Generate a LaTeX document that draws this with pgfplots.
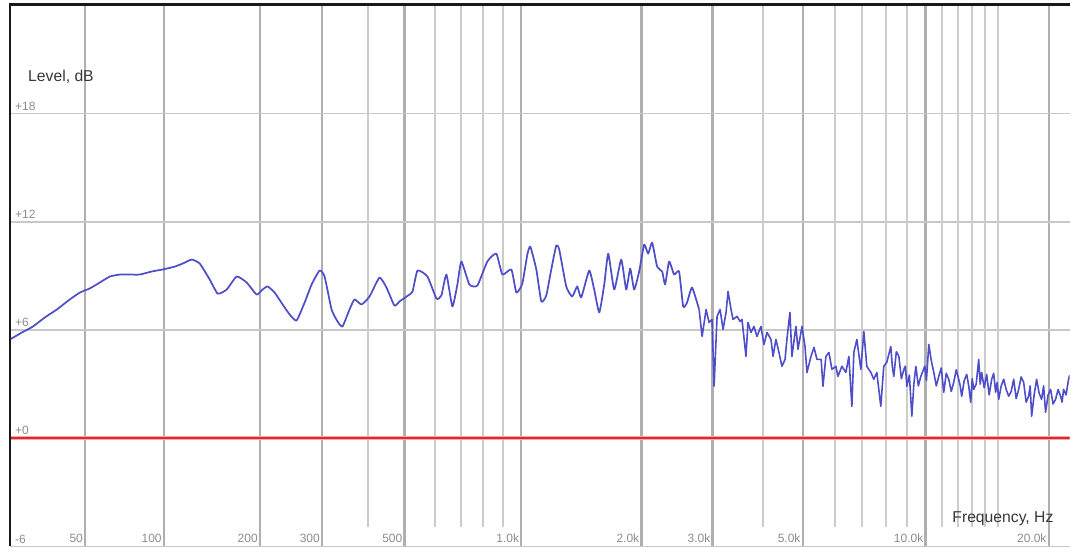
\documentclass[border=0pt]{standalone}
\usepackage{pgfplots}
\pgfplotsset{compat=1.18}
\usepackage{fontspec}
\setmainfont{Liberation Sans}
\definecolor{curve}{RGB}{78,78,200}
\definecolor{refred}{RGB}{226,40,40}
\definecolor{refhalo}{RGB}{244,170,170}
\definecolor{majgrid}{RGB}{175,175,175}
\definecolor{mingrid}{RGB}{204,204,204}
\definecolor{hgrid}{RGB}{200,200,200}
\definecolor{ticktext}{RGB}{140,140,140}
\definecolor{labtext}{RGB}{55,55,55}
% response below ~2.7 kHz
\pgfplotstableread{
f dB
19.05 5.48
23.2 5.87
27.2 6.20
31.8 6.70
36.8 7.14
42.6 7.70
47.4 8.08
52.4 8.31
57.8 8.64
63.4 8.97
69.4 9.08
75.7 9.08
82.3 9.08
90.8 9.25
99.1 9.36
108.8 9.52
115.6 9.69
123.6 9.91
131.2 9.69
141.1 8.80
149.4 8.02
159.2 8.25
170.6 8.97
182.7 8.64
195.6 7.97
203.6 8.25
210.5 8.42
220.6 8.08
232.5 7.42
243.4 6.87
254.7 6.53
268.4 7.53
280.7 8.53
295.4 9.30
304.9 8.97
318.7 7.14
330.9 6.48
341.4 6.20
356.7 7.14
367.9 7.70
384.2 7.42
403.7 7.86
429.2 8.91
448.0 8.36
470.3 7.36
485.1 7.59
506.1 7.86
524.8 8.14
540.8 9.30
574.2 8.97
605.9 7.75
624.2 7.92
643.1 9.08
666.4 7.31
686.5 8.53
702.9 9.80
737.0 8.53
772.6 8.47
819.3 9.80
863.7 10.24
895.1 9.08
943.4 9.36
971.4 8.08
1005.8 8.58
1035.5 10.19
1053.7 10.63
1091.1 9.36
1123.2 7.59
1156.1 7.92
1190.1 9.36
1225.0 10.69
1246.5 10.46
1297.8 8.42
1343.6 7.86
1382.8 8.42
1415.0 7.81
1481.7 9.30
1524.9 8.25
1570.2 6.98
1615.9 8.53
1653.4 10.24
1711.3 8.25
1781.2 9.91
1832.8 8.25
1875.3 9.41
1918.7 8.25
1974.2 9.25
2031.4 10.74
2078.3 10.24
2126.2 10.85
2187.7 9.52
2250.9 9.25
2289.7 8.53
2342.5 9.80
2410.2 9.08
2479.6 9.25
2538.2 7.31
2594.9 7.53
2669.9 8.36
2779.2 7.14
}\lowresp
% response above ~2.7 kHz
\pgfplotstableread{
f dB
2779.2 7.14
2827 5.65
2892 7.14
2941 6.42
2992 6.59
3026 2.88
3078 6.76
3131 7.14
3185 6.04
3239 6.98
3276 8.14
3332 7.14
3370 6.59
3447 6.76
3507 6.48
3546 6.59
3627 4.54
3669 6.42
3732 5.87
3795 6.20
3860 5.65
3949 6.20
4016 5.20
4085 5.87
4179 5.48
4228 4.54
4298 5.48
4372 4.76
4446 3.99
4525 4.37
4573 5.48
4652 6.98
4705 4.54
4812 6.20
4869 4.93
4981 6.20
5066 5.09
5123 3.65
5241 4.54
5330 5.04
5421 4.37
5550 4.37
5607 2.88
5702 4.54
5800 4.76
5898 3.82
6033 3.99
6101 3.43
6240 3.99
6382 3.65
6491 4.54
6602 1.77
6676 4.76
6790 5.48
6945 3.82
7063 5.92
7183 3.99
7347 3.65
7472 3.27
7600 3.65
7772 1.77
7904 3.99
8039 4.21
8223 5.09
8292 4.0
8362 3.43
8483 4.8
8605 4.54
8727 3.3
8851 3.82
8926 4.0
9001 2.88
9129 3.5
9258 1.22
9363 3.0
9469 3.99
9603 2.9
9738 3.43
9960 4.0
10050 3.2
10186 5.20
10330 4.3
10476 3.65
10624 2.9
10774 3.43
10926 3.9
11081 2.55
11238 3.6
11397 3.27
11558 2.6
11721 3.10
11887 3.8
12055 3.27
12157 2.9
12260 2.33
12433 3.2
12609 3.54
12752 2.9
12896 1.99
13005 3.3
13115 2.71
13300 3.0
13488 4.37
13602 3.0
13717 3.65
13911 2.8
14107 3.54
14307 2.4
14510 3.27
14674 3.6
14839 2.55
14967 3.1
15097 2.16
15310 2.9
15527 3.27
15746 2.7
15968 2.33
16195 2.6
16424 3.27
16656 2.2
16890 2.71
17128 3.4
17370 3.10
17616 2.0
17865 2.33
18016 2.9
18168 1.22
18425 2.4
18685 3.27
18949 2.5
19216 2.16
19432 2.9
19651 1.44
19929 2.4
20210 2.71
20495 1.9
20784 2.16
21078 2.7
21376 2.33
21557 2.0
21739 2.71
22046 2.4
22357 3.27
22497 3.5
}\highresp
\begin{document}
\begin{tikzpicture}
\begin{axis}[name=ax, at={(0,0)}, anchor=south west,
  scale only axis, width=795.75pt, height=406.9pt,
  x coord trafo/.code={\begingroup\pgfkeys{/pgf/fpu=true,/pgf/fpu/output format=fixed}\pgfmathparse{log10(#1+40)}\pgfmathsmuggle\pgfmathresult\endgroup},
  xmin=19.05, xmax=22497, ymin=-6, ymax=24.06,
  xtick={50,100,200,300,500,1000,2000,3000,5000,10000,20000},
  xticklabels={50,100,200,300,500,1.0k,2.0k,3.0k,5.0k,10.0k,20.0k},
  ytick={-6,0,6,12,18},
  yticklabels={-6,+0,+6,+12,+18},
  major tick length=0pt, tick align=inside,
  xmajorgrids, ymajorgrids,
  major x grid style={draw=majgrid, line width=1.6pt},
  major y grid style={draw=hgrid, line width=1.1pt},
  axis line style={draw=none},
  xticklabel style={font=\fontsize{9}{10}\selectfont, text=ticktext, anchor=base east, inner sep=0pt, xshift=-1.5pt, yshift=3pt},
  yticklabel style={font=\fontsize{9}{10}\selectfont, text=ticktext, anchor=base west, inner sep=0pt, xshift=3.75pt, yshift=2.5pt},
]
\pgfplotsinvokeforeach{400,600,700,800,900,4000,6000,7000,8000,9000,11000,12000,13000,14000,15000}{
  \addplot[draw=mingrid, line width=1.5pt, forget plot] coordinates {(#1,-4.93) (#1,24.1)};
}
\addplot[draw=refhalo, line width=3.2pt, forget plot] coordinates {(19.05,0) (22497,0)};
\addplot[draw=refred, line width=1.5pt, forget plot] coordinates {(19.05,0) (22497,0)};
\addplot[draw=curve, line width=1.3pt, smooth, tension=0.3, line join=round] table[x=f, y=dB] {\lowresp};
\addplot[draw=curve, line width=1.2pt, line join=round] table[x=f, y=dB] {\highresp};
\end{axis}
\draw[black!90, line width=2pt, line join=miter] (ax.south west) -- (ax.north west) -- (ax.north east);
\node[anchor=base west, inner sep=0pt, font=\fontsize{11.8}{13}\selectfont, text=labtext] at ([xshift=13.5pt, yshift=-58.1pt]ax.north west) {Level, dB};
\node[anchor=base east, inner sep=0pt, font=\fontsize{11.8}{13}\selectfont, text=labtext] at ([xshift=-12pt, yshift=18pt]ax.south east) {Frequency, Hz};
\path ([xshift=-7.5pt]ax.south west) rectangle ([yshift=3.4pt]ax.north east);
\end{tikzpicture}
\end{document}
